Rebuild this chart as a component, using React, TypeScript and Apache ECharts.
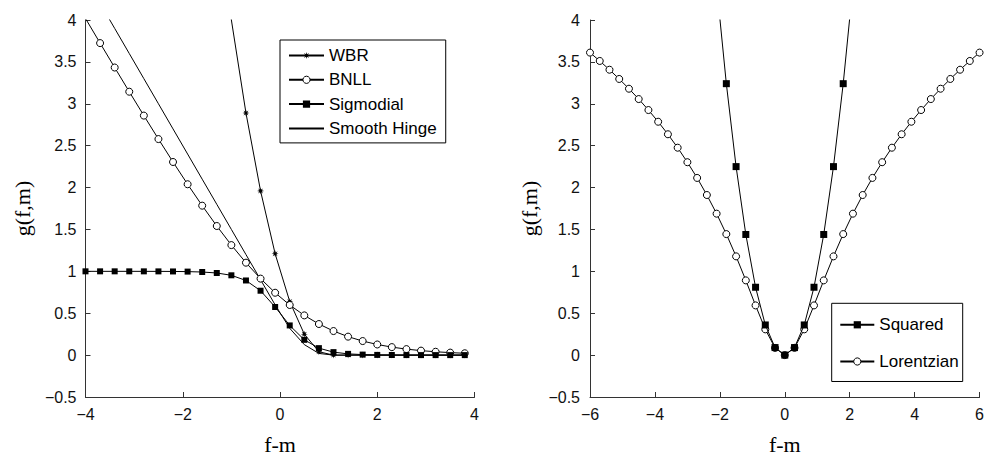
import React, { useEffect, useRef } from 'react';
import * as echarts from 'echarts';

// ---------- Left panel data ----------
const leftX = [-4, -3.7, -3.4, -3.1, -2.8, -2.5, -2.2, -1.9, -1.6, -1.3, -1.0, -0.7, -0.4, -0.1, 0.2, 0.5, 0.8, 1.1, 1.4, 1.7, 2.0, 2.3, 2.6, 2.9, 3.2, 3.5, 3.8];
const wbr = [25, 22.09, 19.36, 16.81, 14.44, 12.25, 10.24, 8.41, 6.76, 5.29, 4, 2.89, 1.96, 1.21, 0.64, 0.25, 0.04, 0, 0, 0, 0, 0, 0, 0, 0, 0, 0];
const bnll = [4.0181, 3.7244, 3.4328, 3.1441, 2.859, 2.5789, 2.3051, 2.0394, 1.7838, 1.541, 1.3133, 1.1032, 0.913, 0.7444, 0.5981, 0.4741, 0.3711, 0.2873, 0.2204, 0.1678, 0.1269, 0.0955, 0.0716, 0.0535, 0.04, 0.0298, 0.0221];
const sigmodial = [1.0, 1.0, 1.0, 0.9999, 0.9998, 0.9994, 0.9986, 0.9967, 0.9918, 0.9802, 0.9526, 0.8909, 0.7685, 0.5744, 0.3543, 0.1824, 0.0832, 0.0356, 0.0148, 0.0061, 0.0025, 0.001, 0.0004, 0.0002, 0.0001, 0.0, 0.0];
const smoothHinge = [4.5, 4.2, 3.9, 3.6, 3.3, 3.0, 2.7, 2.4, 2.1, 1.8, 1.5, 1.2, 0.9, 0.6, 0.32, 0.125, 0.02, 0, 0, 0, 0, 0, 0, 0, 0, 0, 0];

// ---------- Right panel data ----------
const rightX = [-6, -5.7, -5.4, -5.1, -4.8, -4.5, -4.2, -3.9, -3.6, -3.3, -3.0, -2.7, -2.4, -2.1, -1.8, -1.5, -1.2, -0.9, -0.6, -0.3, 0, 0.3, 0.6, 0.9, 1.2, 1.5, 1.8, 2.1, 2.4, 2.7, 3.0, 3.3, 3.6, 3.9, 4.2, 4.5, 4.8, 5.1, 5.4, 5.7, 6];
const squared = [36, 32.49, 29.16, 26.01, 23.04, 20.25, 17.64, 15.21, 12.96, 10.89, 9, 7.29, 5.76, 4.41, 3.24, 2.25, 1.44, 0.81, 0.36, 0.09, 0, 0.09, 0.36, 0.81, 1.44, 2.25, 3.24, 4.41, 5.76, 7.29, 9, 10.89, 12.96, 15.21, 17.64, 20.25, 23.04, 26.01, 29.16, 32.49, 36];
const lorentzian = [3.6109, 3.5111, 3.4065, 3.2962, 3.1797, 3.0564, 2.9253, 2.7856, 2.6362, 2.4757, 2.3026, 2.115, 1.911, 1.6883, 1.4446, 1.1787, 0.892, 0.5933, 0.3075, 0.0862, 0, 0.0862, 0.3075, 0.5933, 0.892, 1.1787, 1.4446, 1.6883, 1.911, 2.115, 2.3026, 2.4757, 2.6362, 2.7856, 2.9253, 3.0564, 3.1797, 3.2962, 3.4065, 3.5111, 3.6109];

const leftNames = ['WBR', 'BNLL', 'Sigmodial', 'Smooth Hinge'];
const rightNames = ['Squared', 'Lorentzian'];
const yMax = 4;

const starPath = 'path://M20,10 L13.7,11.53 L17.07,17.07 L11.53,13.7 L10,20 L8.47,13.7 L2.93,17.07 L6.3,11.53 L0,10 L6.3,8.47 L2.93,2.93 L8.47,6.3 L10,0 L11.53,6.3 L17.07,2.93 L13.7,8.47 Z';

export default function App() {
  const ref = useRef<HTMLDivElement>(null);
  useEffect(() => {
    const chart = echarts.init(ref.current as HTMLDivElement, null, { renderer: 'svg' });
    // points at or above the top of the axes carry no marker (clipped, as in the original)
    const zip = (xs: number[], ys: number[]) =>
      xs.map((x, i) => (ys[i] >= yMax ? { value: [x, ys[i]], symbol: 'none' } : [x, ys[i]]));
    const fmt = (v: number) => (v < 0 ? '\u2212' + String(-v) : String(v));
    const sans = 'Liberation Sans, Arial, Helvetica, sans-serif';
    const serif = 'Liberation Serif, Times New Roman, serif';
    const axisColor = '#333';

    const xAxisBase = (gridIndex: number, min: number, max: number) => ({
      type: 'value', gridIndex, min, max, interval: 2,
      name: 'f-m', nameLocation: 'middle', nameGap: 36,
      nameTextStyle: { fontFamily: serif, fontSize: 22, color: '#000' },
      axisLine: { show: true, onZero: false, lineStyle: { color: axisColor, width: 1 } },
      axisTick: { show: true, inside: true, length: 5, lineStyle: { color: axisColor } },
      axisLabel: { formatter: fmt, fontFamily: sans, fontSize: 16, color: '#111', margin: 9.5 },
      splitLine: { show: false },
    });
    const yAxisBase = (gridIndex: number, nameGap: number, margin: number) => ({
      type: 'value', gridIndex, min: -0.5, max: yMax, interval: 0.5,
      name: 'g(f,m)', nameLocation: 'middle', nameGap, nameRotate: 90,
      nameTextStyle: { fontFamily: serif, fontSize: 22, color: '#000' },
      axisLine: { show: true, onZero: false, lineStyle: { color: axisColor, width: 1 } },
      axisTick: { show: true, inside: true, length: 5, lineStyle: { color: axisColor } },
      axisLabel: { formatter: fmt, fontFamily: sans, fontSize: 16, color: '#111', margin },
      splitLine: { show: false },
    });

    const lineBase = { type: 'line', clip: true, lineStyle: { color: '#000', width: 1 }, emphasis: { disabled: true } };

    const legendBase = {
      orient: 'vertical', selectedMode: false, borderColor: '#000', borderWidth: 1,
      backgroundColor: '#fff', borderRadius: 0,
      textStyle: { fontFamily: sans, fontSize: 17, color: '#000', lineHeight: 17 },
    };

    chart.setOption({
      animation: false,
      backgroundColor: '#fff',
      grid: [
        { left: 85.5, top: 20, width: 389, height: 385 },
        { left: 590, top: 20, width: 392, height: 385 },
      ],
      xAxis: [xAxisBase(0, -4, 4), xAxisBase(1, -6, 6)],
      yAxis: [yAxisBase(0, 52, 9), yAxisBase(1, 50, 10)],
      legend: [
        {
          ...legendBase,
          left: 280, top: 40, itemWidth: 35, itemHeight: 9, itemGap: 7.3, padding: [7, 9, 6, 8],
          data: [
            { name: leftNames[0], itemStyle: { color: '#000', borderWidth: 0 } },
            { name: leftNames[1], itemStyle: { color: '#fff', borderColor: '#000', borderWidth: 1 } },
            { name: leftNames[2], itemStyle: { color: '#000', borderWidth: 0 } },
            { name: leftNames[3], itemStyle: { opacity: 0 } },
          ],
        },
        {
          ...legendBase,
          left: 831.7, top: 303.3, itemWidth: 34, itemHeight: 9, itemGap: 19.7, padding: [13, 4, 11.5, 7.6],
          data: [
            { name: rightNames[0], itemStyle: { color: '#000', borderWidth: 0 } },
            { name: rightNames[1], itemStyle: { color: '#fff', borderColor: '#000', borderWidth: 1 } },
          ],
        },
      ],
      series: [
        { ...lineBase, name: leftNames[0], xAxisIndex: 0, yAxisIndex: 0, data: zip(leftX, wbr), symbol: starPath, symbolSize: 7, itemStyle: { color: '#000' } },
        { ...lineBase, name: leftNames[1], xAxisIndex: 0, yAxisIndex: 0, data: zip(leftX, bnll), symbol: 'circle', symbolSize: 7, itemStyle: { color: '#fff', borderColor: '#000', borderWidth: 1 } },
        { ...lineBase, name: leftNames[2], xAxisIndex: 0, yAxisIndex: 0, data: zip(leftX, sigmodial), symbol: 'rect', symbolSize: 6, itemStyle: { color: '#000' } },
        { ...lineBase, name: leftNames[3], xAxisIndex: 0, yAxisIndex: 0, data: zip(leftX, smoothHinge), symbol: 'none', itemStyle: { color: '#000' } },
        { ...lineBase, name: rightNames[1], xAxisIndex: 1, yAxisIndex: 1, z: 2, data: zip(rightX, lorentzian), symbol: 'circle', symbolSize: 7, itemStyle: { color: '#fff', borderColor: '#000', borderWidth: 1 } },
        { ...lineBase, name: rightNames[0], xAxisIndex: 1, yAxisIndex: 1, z: 4, data: zip(rightX, squared), symbol: 'rect', symbolSize: 7, itemStyle: { color: '#000' } },
      ],
    });
    return () => chart.dispose();
  }, []);
  return <div ref={ref} style={{ position: 'fixed', left: 0, top: 0, width: 987, height: 460, background: '#fff' }} />;
}
